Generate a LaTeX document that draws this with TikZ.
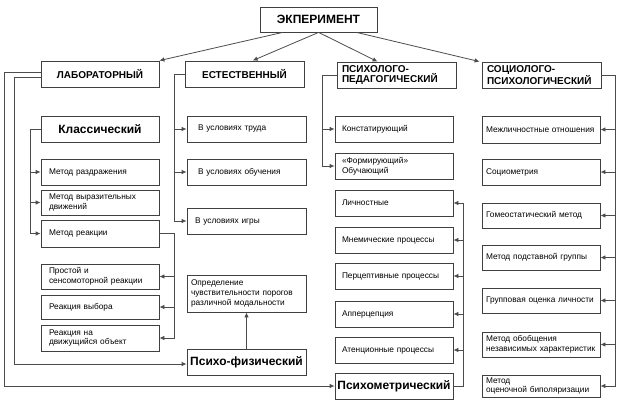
\documentclass[tikz,border=0pt]{standalone}
\usepackage{fontspec}
\setmainfont{Liberation Sans}
\usetikzlibrary{arrows.meta}
\newcommand\mybox[8]{%
  \pgfmathsetmacro\bw{#4-#2}\pgfmathsetmacro\bh{#5-#3}%
  \pgfmathsetmacro\btw{#4-#2-2*#7}%
  \pgfmathsetmacro\bcx{(#2+#4)/2}\pgfmathsetmacro\bcy{(#3+#5)/2}%
  \node[#6,minimum width=\bw pt,minimum height=\bh pt,inner xsep=#7pt,text width=\btw pt] (#1) at (\bcx,\bcy) {#8};}
\begin{document}
\begin{tikzpicture}[x=1pt,y=-1pt,
  box/.style={draw=black!75,line width=0.8pt,fill=white,inner ysep=1pt,
    font=\fontsize{8.3}{9.8}\selectfont,align=left},
  cbox/.style={box,align=center},
  hdr/.style={box,font=\bfseries\fontsize{10}{10.8}\selectfont},
  big/.style={box,align=center,font=\bfseries\fontsize{12}{14}\selectfont},
  ln/.style={draw=black!70,line width=0.8pt},
  arr/.style={ln,-{Latex[length=5pt,width=4.5pt]}}]
\useasboundingbox (0,0) rectangle (623,408);
% headers
\mybox{top}{260}{7}{377}{32}{big}{3}{ЭКПЕРИМЕНТ}
\mybox{lab}{41}{61}{159}{87}{hdr,align=center}{3}{ЛАБОРАТОРНЫЙ}
\mybox{est}{185}{61}{304}{87}{hdr,align=center}{3}{ЕСТЕСТВЕННЫЙ}
\mybox{psp}{337}{62}{456}{88}{hdr}{5}{ПСИХОЛОГО-\\ПЕДАГОГИЧЕСКИЙ}
\mybox{soc}{482}{62}{601}{88}{hdr}{5}{СОЦИОЛОГО-\\ПСИХОЛОГИЧЕСКИЙ}
% left column
\mybox{klass}{41}{116}{159}{142}{big}{3}{Классический}
\mybox{mrz}{41}{159}{159}{185}{box}{8}{Метод раздражения}
\mybox{mvd}{41}{190}{159}{215}{box}{8}{Метод выразительных\\движений}
\mybox{mr}{41}{220}{159}{247}{box}{8}{Метод реакции}
\mybox{pro}{41}{264}{159}{289}{box}{8}{Простой и\\сенсомоторной реакции}
\mybox{rv}{41}{295}{159}{319}{box}{8}{Реакция выбора}
\mybox{rdo}{41}{325}{159}{351}{box}{8}{Реакция на\\движущийся объект}
% middle column
\mybox{tr}{187}{116}{306}{142}{box}{11}{В условиях труда}
\mybox{ob}{187}{159}{306}{185}{box}{11}{В условиях обучения}
\mybox{ig}{187}{208}{306}{234}{box}{8}{В условиях игры}
\mybox{opr}{187}{275}{306}{312}{box}{4}{Определение\\чувствительности порогов\\различной модальности}
\mybox{pf}{187}{349}{306}{375}{big}{2}{Психо-физический}
% psych column
\mybox{kon}{335}{116}{453}{142}{box}{7}{Констатирующий}
\mybox{form}{335}{153}{453}{179}{box}{7}{«Формирующий»\\Обучающий}
\mybox{lich}{335}{190}{453}{216}{box}{7}{Личностные}
\mybox{mnem}{335}{227}{453}{253}{box}{7}{Мнемические процессы}
\mybox{perc}{335}{263}{453}{289}{box}{7}{Перцептивные процессы}
\mybox{app}{335}{301}{453}{327}{box}{7}{Апперцепция}
\mybox{aten}{335}{337}{453}{363}{box}{7}{Атенционные процессы}
\mybox{pm}{335}{373}{453}{399}{big}{1}{Психометрический}
% social column
\mybox{s1}{482}{116}{600}{143}{box}{4}{Межличностные отношения}
\mybox{s2}{482}{159}{600}{185}{box}{4}{Социометрия}
\mybox{s3}{482}{203}{600}{228}{box}{4}{Гомеостатический метод}
\mybox{s4}{482}{245}{600}{270}{box}{4}{Метод подставной группы}
\mybox{s5}{482}{288}{600}{313}{box}{4}{Групповая оценка личности}
\mybox{s6}{482}{332}{600}{357}{box}{4}{Метод обобщения\\независимых характеристик}
\mybox{s7}{482}{375}{600}{397}{box}{4}{Метод\\оценочной биполяризации}
% top arrows
\draw[arr] ([xshift=23pt]top.south west) -- (lab.north east);
\draw[arr] ([xshift=59pt]top.south west) -- ([xshift=68pt]est.north west);
\draw[arr] ([xshift=59pt]top.south west) -- ([xshift=41pt]psp.north west);
\draw[arr] ([xshift=97pt]top.south west) -- ([xshift=-2pt]soc.north west);
% laboratory outer lines
\draw[arr] ([yshift=2pt]lab.west) -- ++(-36,0) |- (pm.west);
\draw[arr] ([yshift=-3pt]lab.west) -- ++(-26,0) |- ([yshift=-2pt]pf.west);
% classical
\coordinate (kx) at (30,0);
\draw[arr] (klass.west) -- (kx |- klass.west) |- (mr.west);
\draw[arr] (kx |- mrz.west) -- (mrz.west);
\draw[arr] (kx |- mvd.west) -- (mvd.west);
% reaction method
\coordinate (rx) at (174,0);
\draw[arr] (mr.east) -- (rx |- mr.east) |- (rdo.east);
\draw[arr] (rx |- pro.east) -- (pro.east);
\draw[arr] (rx |- rv.east) -- (rv.east);
% natural
\draw[arr] (est.west) -- (rx |- est.west) |- (ig.west);
\draw[arr] (rx |- tr.west) -- (tr.west);
\draw[arr] (rx |- ob.west) -- (ob.west);
% psycho-physical
\draw[arr] (pf.north) -- (pf.north |- opr.south);
% psycho-pedagogical
\coordinate (px) at (322,0);
\draw[arr] (psp.west) -- (px |- psp.west) |- (form.west);
\draw[arr] (px |- kon.west) -- (kon.west);
% psychometric
\coordinate (mx) at (463,0);
\draw[arr] (pm.east) -- (mx |- pm.east) |- (lich.east);
\foreach \n in {mnem,perc,app,aten} \draw[arr] (mx |- \n.east) -- (\n.east);
% social
\coordinate (sx) at (615,0);
\draw[arr] (soc.east) -- (sx |- soc.east) |- (s7.east);
\foreach \n in {s1,s2,s3,s4,s5,s6} \draw[arr] (sx |- \n.east) -- (\n.east);
\end{tikzpicture}
\end{document}
